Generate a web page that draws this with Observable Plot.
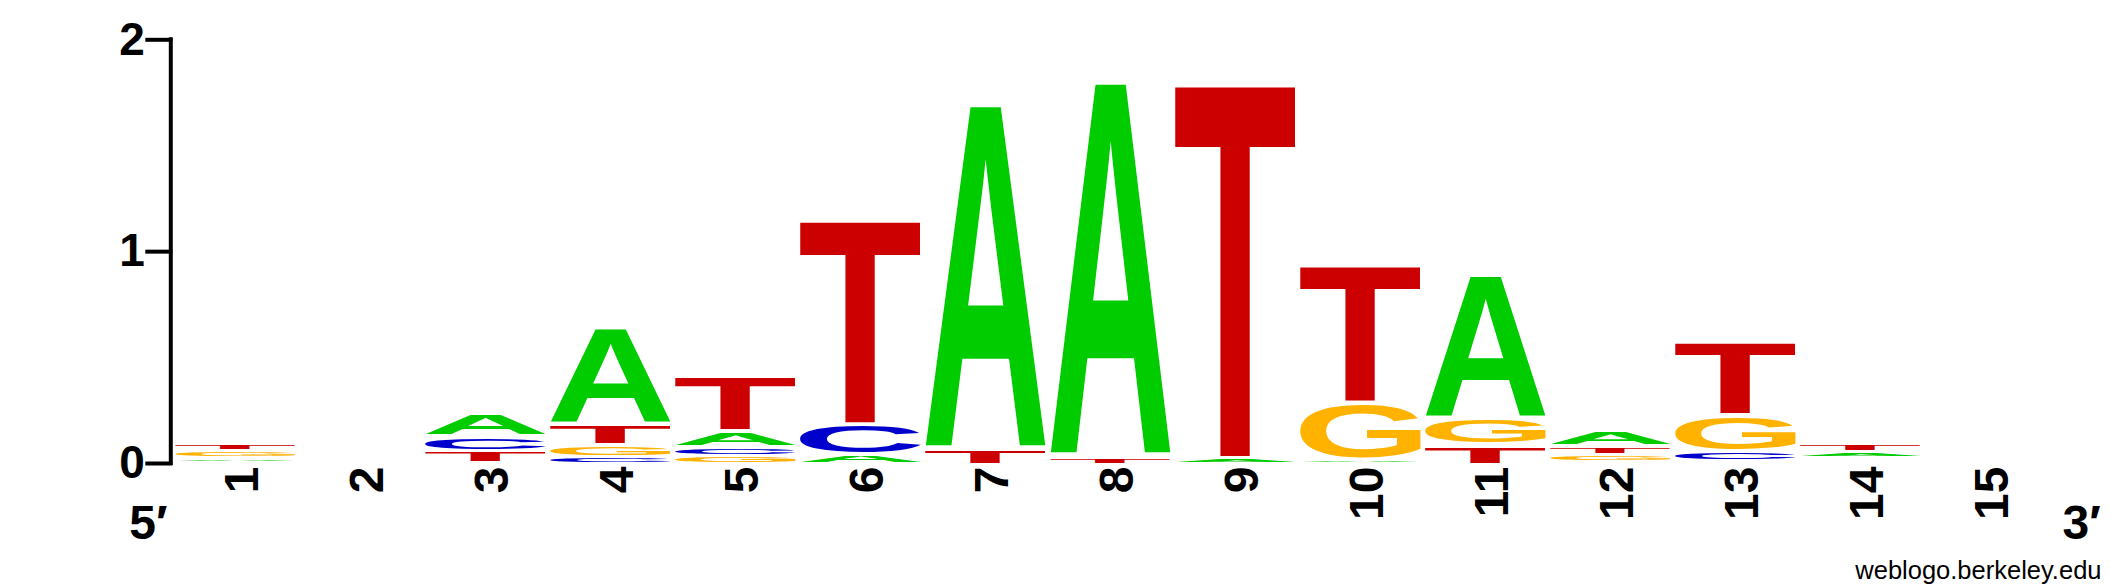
<!DOCTYPE html>
<html>
<head>
<meta charset="utf-8">
<script src="https://cdn.jsdelivr.net/npm/d3@7"></script>
<script src="https://cdn.jsdelivr.net/npm/@observablehq/plot@0.6"></script>
<style>
  html, body { margin: 0; padding: 0; background: #fff; }
</style>
</head>
<body>
<div id="chart"></div>
<script>
// ---- data ----
const positions = [1, 2, 3, 4, 5, 6, 7, 8, 9, 10, 11, 12, 13, 14, 15];
const letters = ["A", "C", "G", "T"];
const bitsA = [0.024, 0, 0.111, 0.456, 0.075, 0.046, 1.631, 1.771, 0.031, 0.023, 0.677, 0.076, 0.015, 0.031, 0];
const bitsC = [0.007, 0, 0.068, 0.037, 0.042, 0.144, 0, 0, 0, 0, 0, 0.012, 0.047, 0.015, 0];
const bitsG = [0.035, 0, 0.007, 0.053, 0.041, 0, 0, 0, 0, 0.270, 0.125, 0.034, 0.170, 0.015, 0];
const bitsT = [0.036, 0, 0.058, 0.096, 0.260, 0.970, 0.070, 0.036, 1.776, 0.652, 0.093, 0.042, 0.349, 0.044, 0];
const letterColors = {A: "#00cc00", C: "#0000cc", G: "#ffb300", T: "#cc0000"};
const yTicks = [0, 1, 2];
const yDomain = [0, 2];
const startLabel = "5\u2032";
const endLabel = "3\u2032";
const credit = "weblogo.berkeley.edu";

const FONT = "'Liberation Sans', Arial, Helvetica, sans-serif";
const svgNS = "http://www.w3.org/2000/svg";

// stack each column: smallest letter at the bottom, largest on top
const series = {A: bitsA, C: bitsC, G: bitsG, T: bitsT};
const table = [];
positions.forEach((p, i) => {
  const col = letters.map(l => ({position: p, letter: l, bits: series[l][i]}))
    .sort((a, b) => a.bits - b.bits);
  let acc = 0;
  for (const d of col) {
    d.y1 = acc;
    acc += d.bits;
    d.y2 = acc;
    table.push(d);
  }
});

// ---- glyph drawing (letters stretched to fill their stack box) ----
const ctx = document.createElement("canvas").getContext("2d");
const cache = {};
function glyphMetrics(letter) {
  if (!cache[letter]) {
    ctx.font = `bold 200px ${FONT}`;
    ctx.textAlign = "left";
    ctx.textBaseline = "alphabetic";
    const m = ctx.measureText(letter);
    cache[letter] = {left: m.actualBoundingBoxLeft, right: m.actualBoundingBoxRight,
                     asc: m.actualBoundingBoxAscent, desc: m.actualBoundingBoxDescent};
  }
  return cache[letter];
}
function drawGlyph(parent, letter, x0, x1, yTop, yBot) {
  const gx0 = x0 + 2, gx1 = x1 - 2;
  const gy0 = yTop + 3.5, gy1 = yBot - 0.5;
  if (gy1 - gy0 < 0.4) return;
  const m = glyphMetrics(letter);
  const sx = (gx1 - gx0) / (m.left + m.right);
  const sy = (gy1 - gy0) / (m.asc + m.desc);
  const t = document.createElementNS(svgNS, "text");
  t.setAttribute("transform", `translate(${gx0 + m.left * sx},${gy0 + m.asc * sy}) scale(${sx},${sy})`);
  t.setAttribute("font-size", "200");
  t.setAttribute("font-weight", "bold");
  t.setAttribute("font-family", FONT);
  t.setAttribute("text-anchor", "start");
  t.setAttribute("dominant-baseline", "alphabetic");
  t.setAttribute("fill", letterColors[letter]);
  t.textContent = letter;
  parent.appendChild(t);
}

function renderGlyphs(index, scales, values) {
  const g = document.createElementNS(svgNS, "g");
  g.setAttribute("class", "glyphs");
  g.setAttribute("text-anchor", "start");
  for (const i of index) {
    const x0 = Math.min(values.x1[i], values.x2[i]), x1 = Math.max(values.x1[i], values.x2[i]);
    const yTop = Math.min(values.y1[i], values.y2[i]), yBot = Math.max(values.y1[i], values.y2[i]);
    drawGlyph(g, table[i].letter, x0, x1, yTop, yBot);
  }
  return g;
}

const plot = Plot.plot({
  width: 2125,
  height: 588,
  marginLeft: 173,
  marginRight: 77,
  marginTop: 39.3,
  marginBottom: 125,
  style: {fontFamily: FONT, background: "white", color: "black", overflow: "visible"},
  x: {domain: [positions[0] - 0.5, positions[positions.length - 1] + 0.5], axis: null},
  y: {domain: yDomain, axis: null},
  marks: [
    Plot.rect(table, {
      x1: d => d.position - 0.5,
      x2: d => d.position + 0.5,
      y1: "y1",
      y2: "y2",
      fill: d => letterColors[d.letter],
      render: renderGlyphs
    }),
    Plot.ruleX([yDomain], {x: () => positions[0] - 0.5, y1: d => d[0], y2: d => d[1], dx: -2.7,
      stroke: "black", strokeWidth: 4, strokeLinecap: "square"}),
    Plot.axisY(yTicks, {tickSize: 27, tickPadding: 1, strokeWidth: 4, dx: -0.7,
      fontSize: 46, fontWeight: "bold", tickFormat: d => String(d), label: null}),
    Plot.text(positions, {x: d => d, text: d => String(d), frameAnchor: "bottom",
      rotate: -90, textAnchor: "end", lineAnchor: "bottom", dx: 22, dy: 3,
      fontSize: 48, fontWeight: "bold", fill: "black"}),
    Plot.text([startLabel], {text: d => d, frameAnchor: "bottom-left", textAnchor: "end",
      lineAnchor: "bottom", dx: -6, dy: 75, fontSize: 48, fontWeight: "bold", fill: "black"}),
    Plot.text([endLabel], {text: d => d, frameAnchor: "bottom-right", textAnchor: "start",
      lineAnchor: "bottom", dx: 14, dy: 75, fontSize: 48, fontWeight: "bold", fill: "black"}),
    Plot.text([credit], {text: d => d, frameAnchor: "bottom-right", textAnchor: "end",
      lineAnchor: "bottom", dx: 53, dy: 115, fontSize: 25.5, fill: "black"})
  ]
});
document.getElementById("chart").appendChild(plot);
</script>
</body>
</html>
